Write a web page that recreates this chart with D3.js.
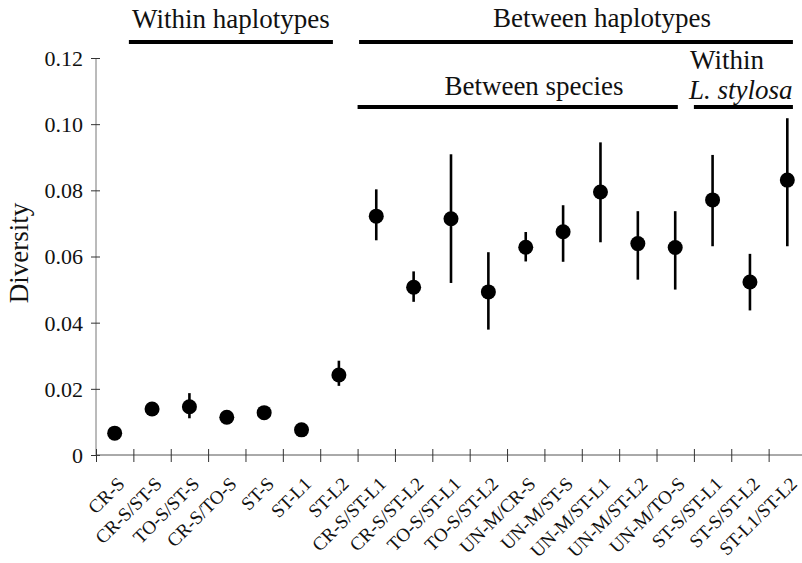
<!DOCTYPE html>
<html>
<head>
<meta charset="utf-8">
<script src="https://cdn.jsdelivr.net/npm/d3@7"></script>
<style>
  html, body { margin: 0; padding: 0; background: #fff; }
  svg { display: block; font-family: "Liberation Serif", "Times New Roman", serif; }
</style>
</head>
<body>
<svg id="chart" width="802" height="563"></svg>
<script>
const categories = ["CR-S", "CR-S/ST-S", "TO-S/ST-S", "CR-S/TO-S", "ST-S", "ST-L1", "ST-L2",
  "CR-S/ST-L1", "CR-S/ST-L2", "TO-S/ST-L1", "TO-S/ST-L2", "UN-M/CR-S", "UN-M/ST-S",
  "UN-M/ST-L1", "UN-M/ST-L2", "UN-M/TO-S", "ST-S/ST-L1", "ST-S/ST-L2", "ST-L1/ST-L2"];
const diversity = [0.0066, 0.0139, 0.0146, 0.0114, 0.0128, 0.0076, 0.0242,
  0.0722, 0.0507, 0.0714, 0.0493, 0.0628, 0.0675, 0.0795, 0.0639, 0.0627, 0.0771, 0.0523, 0.0831];
const upper = [null, null, 0.0187, null, null, null, 0.0285,
  0.0803, 0.0555, 0.0909, 0.0613, 0.0674, 0.0755, 0.0945, 0.0737, 0.0737, 0.0907, 0.0608, 0.1018];
const lower = [null, null, 0.0111, null, null, null, 0.0209,
  0.0649, 0.0463, 0.0520, 0.0379, 0.0585, 0.0584, 0.0643, 0.0530, 0.0500, 0.0631, 0.0437, 0.0631];
const yTicks = [0, 0.02, 0.04, 0.06, 0.08, 0.10, 0.12];
const yTickLabels = ["0", "0.02", "0.04", "0.06", "0.08", "0.10", "0.12"];
const groupLabels = ["Within haplotypes", "Between haplotypes", "Between species"];

const svg = d3.select("#chart");
const x0 = 96, x1 = 806, yBottom = 455, yTop = 58;
const serif = "Liberation Serif";

const x = d3.scaleBand().domain(categories).range([x0, x1]).padding(0);
const xPos = d3.scaleLinear().domain([0, categories.length]).range([x0, x1]);
const y = d3.scaleLinear().domain([0, 0.12]).range([yBottom, yTop]);

// Y axis
const yAxis = svg.append("g").attr("transform", `translate(${x0},0)`)
  .call(d3.axisLeft(y).tickValues(yTicks).tickFormat((d, i) => yTickLabels[i]).tickSize(5).tickPadding(8));
yAxis.attr("font-family", serif);
yAxis.select(".domain").attr("stroke", "#777").attr("stroke-width", 1).attr("d", `M0,${yTop}V${yBottom}`);
yAxis.selectAll(".tick line").attr("x1", -5).attr("x2", 4).attr("stroke", "#333");
yAxis.selectAll(".tick text").attr("font-size", 22).attr("font-family", serif).attr("fill", "#111")
  .attr("x", -13).attr("dy", "0.34em");

// X axis (ticks at band boundaries)
const xAxis = svg.append("g").attr("transform", `translate(0,${yBottom})`)
  .call(d3.axisBottom(xPos).tickValues(d3.range(0, categories.length)).tickFormat("").tickSize(7));
xAxis.select(".domain").attr("stroke", "#555").attr("d", `M${x0},0H${x1}`);
xAxis.selectAll(".tick line").attr("y1", -6).attr("y2", 7).attr("stroke", "#333");

// X labels
svg.append("g").selectAll("text").data(categories).join("text")
  .attr("transform", d => `translate(${x(d) + x.bandwidth() / 2 + 11},${yBottom + 30}) rotate(-45)`)
  .attr("text-anchor", "end")
  .attr("font-family", serif)
  .attr("font-size", 19)
  .attr("fill", "#111")
  .text(d => d);

// Y label
svg.append("text")
  .attr("transform", `translate(28,253) rotate(-90)`)
  .attr("text-anchor", "middle")
  .attr("font-family", serif)
  .attr("font-size", 27)
  .attr("fill", "#111")
  .text("Diversity");

// Error bars
const idx = d3.range(categories.length).filter(i => upper[i] !== null);
svg.append("g").selectAll("line").data(idx).join("line")
  .attr("x1", i => x(categories[i]) + x.bandwidth() / 2)
  .attr("x2", i => x(categories[i]) + x.bandwidth() / 2)
  .attr("y1", i => y(upper[i]))
  .attr("y2", i => y(lower[i]))
  .attr("stroke", "#000").attr("stroke-width", 2.6);

// Points
svg.append("g").selectAll("circle").data(categories).join("circle")
  .attr("cx", d => x(d) + x.bandwidth() / 2)
  .attr("cy", (d, i) => y(diversity[i]))
  .attr("r", 7.5)
  .attr("fill", "#000");

// Group annotations
const bracket = (a, b, yy) => svg.append("line")
  .attr("x1", xPos(a)).attr("x2", xPos(b)).attr("y1", yy).attr("y2", yy)
  .attr("stroke", "#000").attr("stroke-width", 4);
bracket(0.88, 6.34, 42);
bracket(7.04, 18.65, 42);
bracket(7.0, 15.57, 107);
bracket(16.0, 18.65, 107);

const label = (txt, cx, yy, anchor) => svg.append("text")
  .attr("x", cx).attr("y", yy).attr("text-anchor", anchor || "middle")
  .attr("font-family", serif)
  .attr("font-size", 27).attr("fill", "#111").text(txt);
label(groupLabels[0], (xPos(0.88) + xPos(6.34)) / 2, 28);
label(groupLabels[1], 602, 27);
label(groupLabels[2], 534, 95);
label("Within", 690, 69, "start");
const ls = svg.append("text").attr("x", 689).attr("y", 99).attr("font-family", serif)
  .attr("font-size", 27).attr("fill", "#111");
ls.append("tspan").attr("font-style", "italic").text("L. stylosa");
</script>
</body>
</html>
